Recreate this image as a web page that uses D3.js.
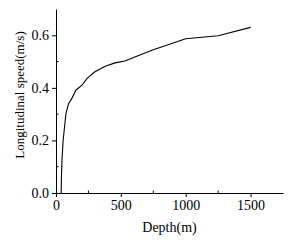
<!DOCTYPE html>
<html>
<head>
<meta charset="utf-8">
<script src="https://cdn.jsdelivr.net/npm/d3@7"></script>
<style>
  body { margin: 0; background: #fff; }
  text { font-family: "Liberation Serif", "Times New Roman", serif; fill: #000; }
</style>
</head>
<body>
<div id="chart"></div>
<script>
// depth (m) vs longitudinal speed (m/s)
const depth = [40, 42, 46, 55, 66, 77, 97, 122, 153, 200, 240, 300, 380, 455, 530, 750, 1000, 1250, 1500];
const speed = [0, 0.06, 0.125, 0.2, 0.252, 0.303, 0.34, 0.36, 0.391, 0.41, 0.436, 0.461, 0.482, 0.495, 0.502, 0.545, 0.587, 0.598, 0.63];

const xTicks = [0, 500, 1000, 1500];
const xMinor = [250, 750, 1250];
const yTicks = [0, 0.2, 0.4, 0.6];
const yMinor = [0.1, 0.3, 0.5];

const W = 292, H = 242;
const margin = { top: 9, right: 9, bottom: 49, left: 56 };
const width = W - margin.left - margin.right,
    height = H - margin.top - margin.bottom;

const svg = d3.select("#chart").append("svg")
    .attr("width", W)
    .attr("height", H)
    .append("g")
    .attr("transform", "translate(" + margin.left + "," + margin.top + ")");

const x = d3.scaleLinear().domain([0, 1750]).range([0, width]);
const y = d3.scaleLinear().domain([0, 0.7]).range([height, 0]);

// x axis
const gx = svg.append("g")
    .attr("transform", `translate(0,${height})`)
    .call(d3.axisBottom(x).tickValues(xTicks).tickFormat(d3.format("d")).tickSize(4).tickPadding(3).tickSizeOuter(0));
gx.append("g").selectAll("line")
    .data(xMinor).enter().append("line")
    .attr("x1", d => x(d)).attr("x2", d => x(d))
    .attr("y1", 0).attr("y2", -2.5)
    .attr("stroke", "#000");

// y axis
const gy = svg.append("g")
    .call(d3.axisLeft(y).tickValues(yTicks).tickFormat(d3.format(".1f")).tickSize(4).tickPadding(3).tickSizeOuter(0));
gy.append("g").selectAll("line")
    .data(yMinor).enter().append("line")
    .attr("x1", 0).attr("x2", 2.5)
    .attr("y1", d => y(d)).attr("y2", d => y(d))
    .attr("stroke", "#000");

svg.selectAll(".tick text")
    .style("font-size", "14px")
    .style("font-family", "Liberation Serif, serif");
svg.selectAll(".domain, .tick line").attr("stroke", "#000");

const line = d3.line()
    .x((d, i) => x(depth[i]))
    .y(d => y(d));

svg.append("path")
    .datum(speed)
    .attr("d", line)
    .attr("fill", "none")
    .attr("stroke", "#000")
    .attr("stroke-width", 1.1);

svg.append("text")
    .text("Depth(m)")
    .attr("x", width / 2)
    .attr("y", height + 39)
    .attr("text-anchor", "middle")
    .style("font-size", "14px");

svg.append("text")
    .text("Longitudinal speed(m/s)")
    .attr("transform", "rotate(-90)")
    .attr("x", -86)
    .attr("y", -32)
    .attr("text-anchor", "middle")
    .style("font-size", "13px");
</script>
</body>
</html>
